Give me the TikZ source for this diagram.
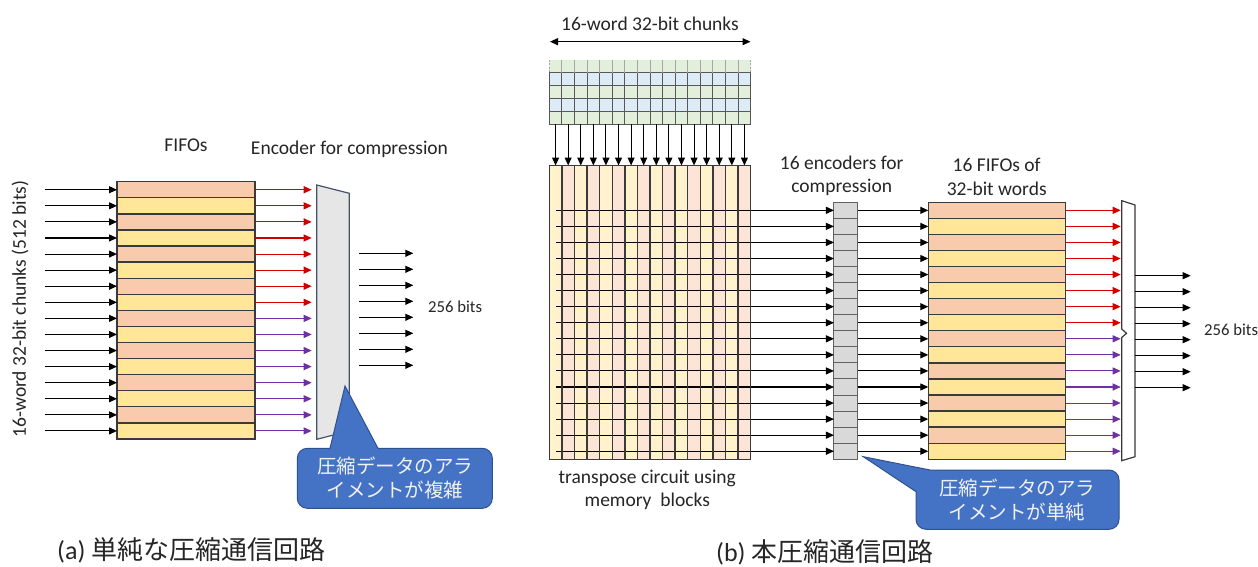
\documentclass[tikz,border=0pt]{standalone}
\usepackage{fontspec}
\setmainfont{Carlito}
\newfontfamily\jp{Noto Sans CJK JP}
\usetikzlibrary{arrows.meta}
\definecolor{salmon}{HTML}{F8CBAD}
\definecolor{yel}{HTML}{FFE699}
\definecolor{tyel}{HTML}{FFF2CC}
\definecolor{tpink}{HTML}{FCE4D6}
\definecolor{cgreen}{HTML}{E2EFDA}
\definecolor{cblue}{HTML}{DDEBF7}
\definecolor{encgray}{HTML}{D9D9D9}
\definecolor{encfill}{HTML}{E7E6E6}
\definecolor{encline}{HTML}{44546A}
\definecolor{callfill}{HTML}{4472C4}
\definecolor{callline}{HTML}{2F528F}
\definecolor{calltext}{HTML}{F2F2F2}
\definecolor{redarr}{HTML}{D00000}
\definecolor{purp}{HTML}{7030A0}
\definecolor{txt}{HTML}{262626}
\definecolor{bline}{HTML}{3A3A3A}
\begin{document}
\begin{tikzpicture}[x=1pt,y=-1pt,
  fifo/.style={draw=bline, line width=1.3pt, inner sep=0pt, outer sep=0pt},
  encbox/.style={draw=bline!80, fill=encgray, line width=1pt, inner sep=0pt, outer sep=0pt, minimum width=23.7pt, minimum height=16.06pt},
  arr/.style={-{Triangle[length=8pt,width=7pt]}, line width=1.1pt},
  lbl/.style={font=\fontsize{19.5}{23.5}\selectfont, text=txt, align=center, inner sep=0pt},
  smalltxt/.style={font=\fontsize{16.7}{20}\selectfont, text=txt, inner sep=0pt},
  jptext/.style={font=\jp\fontsize{19.5}{24}\selectfont, text=calltext, align=center, inner sep=0pt},
  captxt/.style={font=\fontsize{26}{30}\selectfont, text=txt, inner sep=0pt},
  tline/.style={draw=bline, line width=1.4pt},
  callshape/.style={fill=callfill, draw=callline, line width=1pt}
]
\useasboundingbox[fill=white] (0,0) rectangle (1258,567);

% ---------------- (a) left ----------------
\node[lbl] (fifolbl) at (186,145) {FIFOs};
\node[lbl] (enclbl) at (349.5,149.3) {Encoder for compression};
\node[lbl, rotate=90] (inlbl) at (20,309) {16-word 32-bit chunks (512 bits)};

\foreach \k in {0,...,15}{
  \pgfmathsetmacro{\yy}{189.74+16.08*\k}
  \pgfmathtruncatemacro{\odd}{mod(\k,2)}
  \ifnum\odd=0 \def\fc{salmon}\else\def\fc{yel}\fi
  \ifnum\k<8 \def\ac{redarr}\else\def\ac{purp}\fi
  \node[fifo, fill=\fc, minimum width=138pt, minimum height=16.08pt] (L\k) at (186,\yy) {};
  \coordinate (Li\k) at (45,\yy);
  \coordinate (Lo\k) at (311.7,\yy);
  \draw[arr] (Li\k) -- (L\k.west);
  \draw[arr, color=\ac] (L\k.east) -- (Lo\k);
}

\draw[fill=encfill, draw=encline, line width=1.2pt] (316.7,185) -- (349.3,193.3) -- (349.3,431) -- (316.7,439.3) -- cycle;

\foreach \j in {0,...,7}{
  \pgfmathsetmacro{\yy}{253.3+16*\j}
  \coordinate (Ma\j) at (359.3,\yy);
  \coordinate (Mb\j) at (413.3,\yy);
  \draw[arr] (Ma\j) -- (Mb\j);
}
\node[smalltxt, anchor=west] (bitsL) at (428,307) {256 bits};

% callout (a)
\draw[callshape] (345,386) -- (378,448.3) [rounded corners=10pt] -- (492.3,448.3) -- (492.3,508.3) -- (297.3,508.3) -- (297.3,448.3) [sharp corners] -- (330,448.3) -- cycle;
\node[jptext] (callA) at (395,478) {圧縮データのアラ\\イメントが複雑};

% ---------------- (b) right ----------------
\node[lbl] (chunklbl) at (650,24) {16-word 32-bit chunks};
\coordinate (dA) at (550,41.7);
\coordinate (dB) at (750.5,41.7);
\draw[{Triangle[length=8pt,width=7pt]}-{Triangle[length=8pt,width=7pt]}, line width=1.1pt] (dA) -- (dB);

% chunk grid
\fill[cgreen] (549.3,60) rectangle (750.7,72.7);
\fill[cblue] (549.3,72.7) rectangle (750.7,85.6);
\fill[cgreen] (549.3,85.6) rectangle (750.7,98.5);
\fill[cblue] (549.3,98.5) rectangle (750.7,111.4);
\fill[cgreen] (549.3,111.4) rectangle (750.7,124.3);
\foreach \yy in {72.7,85.6,98.5,111.4,124.3}{
  \draw[draw=bline!85, line width=1pt] (549.3,\yy) -- (750.7,\yy);
}
\foreach \i in {1,...,15}{
  \pgfmathsetmacro{\xa}{549.3+12.5875*\i}
  \draw[draw=gray!70, line width=0.9pt] (\xa,60) -- (\xa,72.7);
  \draw[draw=bline!85, line width=0.9pt] (\xa,72.7) -- (\xa,124.3);
}
\draw[draw=bline!85, line width=1pt] (549.3,72.7) -- (549.3,124.3) (750.7,72.7) -- (750.7,124.3);
\draw[draw=gray!70, line width=1pt, dash pattern=on 2pt off 1.5pt] (549.3,60) -- (549.3,72.7) (750.7,60) -- (750.7,72.7);

% transpose circuit
\foreach \i in {0,...,15}{
  \pgfmathsetmacro{\xa}{549.3+12.5875*\i}
  \pgfmathsetmacro{\xb}{\xa+12.5875}
  \pgfmathsetmacro{\xc}{\xa+6.29}
  \pgfmathtruncatemacro{\odd}{mod(\i,2)}
  \ifnum\odd=0 \def\fc{tyel}\else\def\fc{tpink}\fi
  \fill[\fc] (\xa,165.5) rectangle (\xb,459.3);
  \coordinate (Cb\i) at (\xc,124.3);
  \coordinate (Tt\i) at (\xc,165.5);
  \draw[arr] (Cb\i) -- (Tt\i);
}

% encoders and right FIFOs
\foreach \k in {0,...,15}{
  \pgfmathsetmacro{\yy}{210.33+16.06*\k}
  \pgfmathtruncatemacro{\odd}{mod(\k,2)}
  \ifnum\odd=0 \def\fc{salmon}\else\def\fc{yel}\fi
  \ifnum\k<8 \def\ac{redarr}\else\def\ac{purp}\fi
  \node[encbox] (E\k) at (845.8,\yy) {};
  \node[fifo, fill=\fc, minimum width=137.4pt, minimum height=16.06pt] (R\k) at (997,\yy) {};
  \coordinate (Th\k) at (556,\yy);
  \coordinate (Ro\k) at (1120.7,\yy);
  \draw[arr] (Th\k) -- (E\k.west);
  \draw[arr] (E\k.east) -- (R\k.west);
  \draw[arr, color=\ac] (R\k.east) -- (Ro\k);
}
\foreach \i in {1,...,15}{
  \pgfmathsetmacro{\xa}{549.3+12.5875*\i}
  \draw[tline] (\xa,165.5) -- (\xa,459.3);
}
\draw[tline] (549.3,165.5) rectangle (750.7,459.3);

\node[lbl] (translbl) at (647.3,490) {transpose circuit using\\memory\ \ blocks};
\node[lbl] (enclbl2) at (841.7,176) {16 encoders for\\compression};
\node[lbl] (fifolbl2) at (996.7,177) {16 FIFOs of\\32-bit words};

% mux
\draw[fill=white, draw=bline, line width=1.2pt] (1121.7,200.7) -- (1135,205) -- (1135,456.7) -- (1121.7,460.7) -- (1121.7,337.5) -- (1126.5,333.3) -- (1121.7,329) -- cycle;
\foreach \j in {0,...,7}{
  \pgfmathsetmacro{\yy}{275.7+16*\j}
  \coordinate (Na\j) at (1135,\yy);
  \coordinate (Nb\j) at (1190.7,\yy);
  \draw[arr] (Na\j) -- (Nb\j);
}
\node[smalltxt, anchor=west] (bitsR) at (1204,330) {256 bits};

% callout (b)
\draw[callshape] (863.3,456.7) -- (930,470) [rounded corners=10pt] -- (1119,470) -- (1119,529.3) -- (916,529.3) [sharp corners] -- (916,491.7) -- cycle;
\node[jptext] (callB) at (1017,499.5) {圧縮データのアラ\\イメントが単純};

% captions
\node[captxt, anchor=west] (capA) at (57,550) {(a) {\jp\fontsize{26}{30}\selectfont 単純な圧縮通信回路}};
\node[captxt, anchor=west] (capB) at (716,552) {(b) {\jp\fontsize{26}{30}\selectfont 本圧縮通信回路}};
\end{tikzpicture}
\end{document}
